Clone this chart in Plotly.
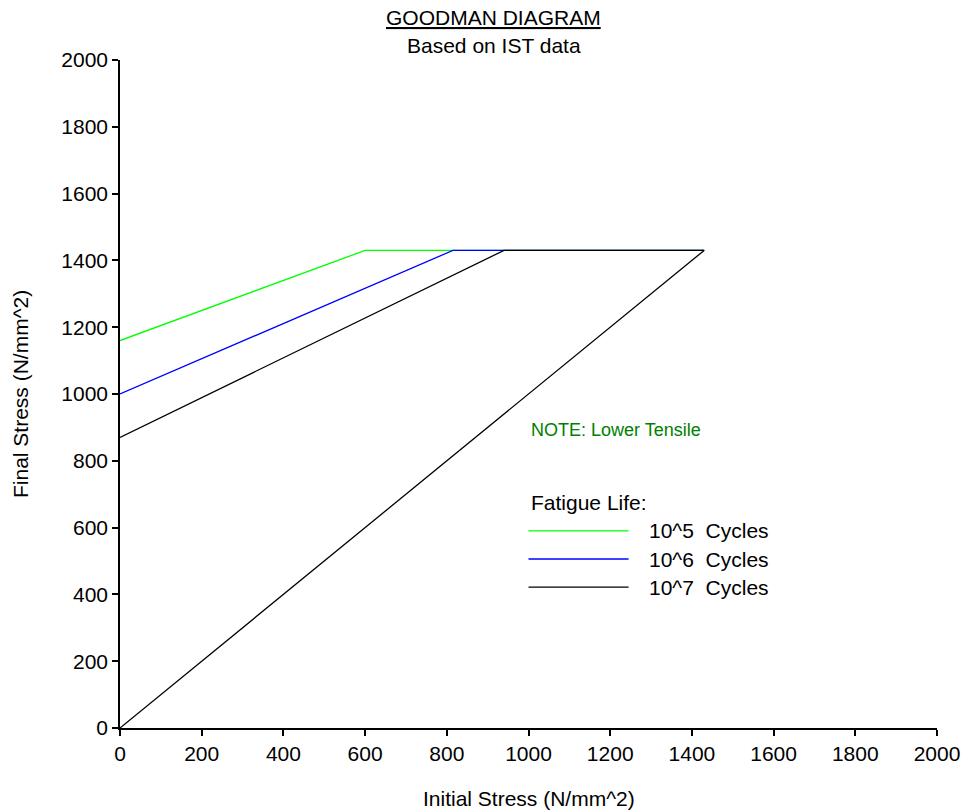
import plotly.graph_objects as go

# Data
series_names = ["10^5  Cycles", "10^6  Cycles", "10^7  Cycles"]
series_colors = ["#00ff00", "#0000ff", "#000000"]
green_x = [0, 600, 1430]
green_y = [1160, 1430, 1430]
blue_x = [0, 815, 1430]
blue_y = [1000, 1430, 1430]
black_x = [0, 940, 1430, 0]
black_y = [870, 1430, 1430, 0]
tick_vals = [0, 200, 400, 600, 800, 1000, 1200, 1400, 1600, 1800, 2000]

FONT = "Liberation Sans, Arial, sans-serif"
FS = 21

fig = go.Figure()
for xs, ys, name, col in zip([green_x, blue_x, black_x], [green_y, blue_y, black_y],
                             series_names, series_colors):
    fig.add_trace(go.Scatter(x=xs, y=ys, mode="lines", name=name,
                             line=dict(color=col, width=1.3), showlegend=False))

# Manual legend
leg_x0, leg_x1, leg_tx = 1000, 1245, 1290
leg_ys = [590, 506, 422]
fig.add_annotation(x=leg_x0, y=674, xref="x", yref="y", text="Fatigue Life:",
                   showarrow=False, xanchor="left", yanchor="middle",
                   font=dict(family=FONT, size=FS, color="black"))
for yv, name, col in zip(leg_ys, series_names, series_colors):
    fig.add_shape(type="line", x0=leg_x0, x1=leg_x1, y0=yv, y1=yv, xref="x", yref="y",
                  line=dict(color=col, width=1.3))
    fig.add_annotation(x=leg_tx, y=yv, xref="x", yref="y", text=name.replace("  ", "&nbsp;&nbsp;"),
                       showarrow=False, xanchor="left", yanchor="middle",
                       font=dict(family=FONT, size=FS, color="black"))

fig.add_annotation(x=1000, y=892, xref="x", yref="y", text="NOTE: Lower Tensile",
                   showarrow=False, xanchor="left", yanchor="middle",
                   font=dict(family=FONT, size=18, color="#008000"))

fig.update_layout(
    width=963, height=810,
    margin=dict(l=120, r=26, t=60, b=82, autoexpand=False),
    paper_bgcolor="white", plot_bgcolor="white",
    font=dict(family=FONT, size=FS, color="black"),
    showlegend=False,
)
plot_h = 810 - 60 - 82
def py(pix):
    return (728 - pix) / plot_h
fig.add_annotation(x=0.5, y=py(17), xref="paper", yref="paper", text="<u>GOODMAN DIAGRAM</u>",
                   showarrow=False, xanchor="center", yanchor="middle", xshift=-35,
                   font=dict(family=FONT, size=FS, color="black"))
fig.add_annotation(x=0.5, y=py(45), xref="paper", yref="paper", text="Based on IST data",
                   showarrow=False, xanchor="center", yanchor="middle", xshift=-35,
                   font=dict(family=FONT, size=FS, color="black"))
fig.add_annotation(x=0.5, y=py(798), xref="paper", yref="paper", text="Initial Stress (N/mm^2)",
                   showarrow=False, xanchor="center", yanchor="middle",
                   font=dict(family=FONT, size=FS, color="black"))
fig.add_annotation(x=(20 - 120) / (963 - 120 - 26), y=0.5, xref="paper", yref="paper",
                   text="Final Stress (N/mm^2)", textangle=-90,
                   showarrow=False, xanchor="center", yanchor="middle",
                   font=dict(family=FONT, size=FS, color="black"))

axis_common = dict(range=[0, 2000], tickvals=tick_vals, showgrid=False, zeroline=False,
                   showline=True, linecolor="black", linewidth=1.5, automargin=False,
                   ticks="outside", ticklen=6, tickcolor="black", tickwidth=1.5,
                   tickfont=dict(family=FONT, size=FS, color="black"), fixedrange=True)
fig.update_xaxes(**axis_common)
fig.update_yaxes(**axis_common)

fig.write_html("out.html", config={"displayModeBar": False})
with open("out.html", "r", encoding="utf-8") as f:
    html = f.read()
html = html.replace("<head>", "<head><style>html,body{margin:0;padding:0;overflow:hidden;}</style>", 1)
with open("out.html", "w", encoding="utf-8") as f:
    f.write(html)
